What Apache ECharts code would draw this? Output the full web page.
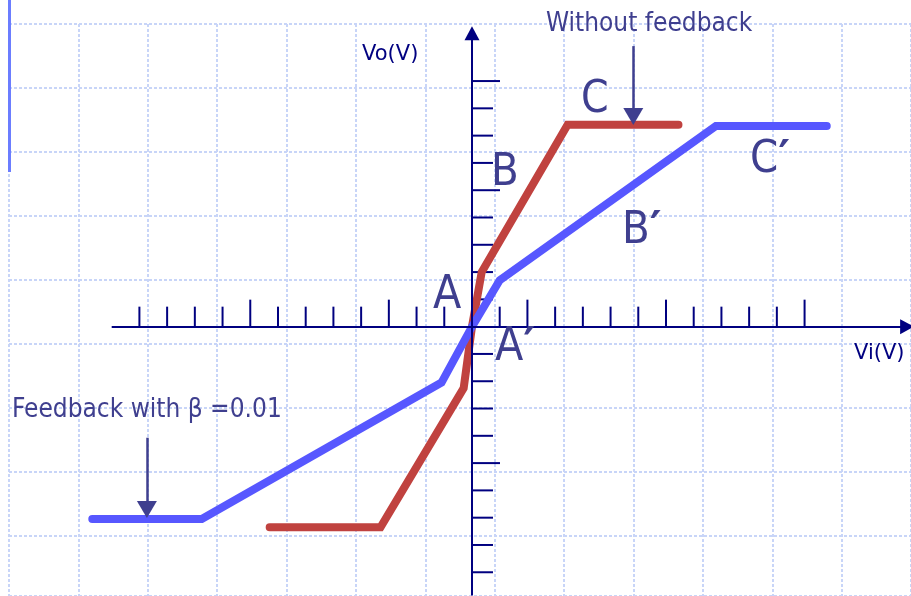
<!DOCTYPE html>
<html>
<head>
<meta charset="utf-8">
<script src="https://cdn.jsdelivr.net/npm/echarts@6/dist/echarts.min.js"></script>
<style>
  html, body { margin: 0; padding: 0; background: #fff; }
  #chart { width: 911px; height: 596px; }
</style>
</head>
<body>
<div id="chart"></div>
<script>
// transfer curve without feedback (red) and with feedback (blue), in tick units
const redVi  = [-7.3, -3.3, -0.3, 0, 0.35, 3.45, 7.45];
const redVo  = [-7.35, -7.35, -2.25, 0, 2.0, 7.4, 7.4];
const blueVi = [-13.7, -9.75, -1.1, 0, 1.0, 8.8, 12.8];
const blueVo = [-7.05, -7.05, -2.05, 0, 1.7, 7.35, 7.35];

// axis ticks
const xTicks = [-12, -11, -10, -9, -8, -7, -6, -5, -4, -3, -2, -1, 1, 2, 3, 4, 5, 6, 7, 8, 9, 10, 11, 12];
const xLongTicks = [-8, -3, 2, 7, 12];
const yTicks = [-9, -8, -7, -6, -5, -4, -3, -2, -1, 1, 2, 3, 4, 5, 6, 7, 8, 9];
const yLongTicks = [-5, 5, 9];

// axis extents (where the drawn axes start / end)
const xAxisStart = -13.0, xAxisEnd = 15.7;
const yAxisStart = -9.85, yAxisEnd = 10.75;

// annotation arrows: [x, yFrom, yTo]
const arrowWithout = [5.82, 10.28, 7.7];
const arrowFeedback = [-11.73, -4.07, -6.7];

const chart = echarts.init(document.getElementById('chart'));

const navy = '#000080';
const ink = '#3f3f8f';
const font = '"DejaVu Sans Condensed", "DejaVu Sans", sans-serif';

function zip(a, b) { return a.map((v, i) => [v, b[i]]); }

function label(text, x, y, size, color, family) {
  return {
    type: 'text', x: x, y: y, z: 50, silent: true,
    style: {
      text: text, font: size + 'px ' + (family || font), fill: color || ink,
      verticalAlign: 'middle', align: 'left',
      rich: { p: { font: 'bold ' + size + 'px "DejaVu Sans", sans-serif', fill: color || ink } }
    }
  };
}

const gridLine = { show: true, lineStyle: { color: '#c8d5f8', width: 2, type: [3, 2] } };

const option = {
  animation: false,
  backgroundColor: '#ffffff',
  grid: [
    { left: 0, right: 0, top: 0, bottom: 0 },
    { left: 9, right: 0, top: 24, bottom: 0 }
  ],
  xAxis: [
    { type: 'value', gridIndex: 0, min: -17.03, max: 15.84, show: false },
    { type: 'value', gridIndex: 1, min: 0, max: 902, interval: 69.39,
      axisLine: { show: false }, axisTick: { show: false }, axisLabel: { show: false },
      splitLine: gridLine }
  ],
  yAxis: [
    { type: 'value', gridIndex: 0, min: -9.87, max: 11.97, show: false },
    { type: 'value', gridIndex: 1, inverse: true, min: 0, max: 572, interval: 63.96,
      axisLine: { show: false }, axisTick: { show: false }, axisLabel: { show: false },
      splitLine: gridLine }
  ],
  graphic: [
    { type: 'rect', shape: { x: 8, y: 0, width: 3, height: 172 }, style: { fill: '#6b7dff' }, z: 40 },
    label('Vo(V)', 362, 55, 21, navy, '"DejaVu Sans", sans-serif'),
    label('Vi(V)', 854, 354, 21, navy, '"DejaVu Sans", sans-serif'),
    label('Without feedback', 546, 24, 26),
    label('Feedback with \u03b2 =0.01', 12, 410, 26),
    label('A', 433, 296, 46),
    label('A{p|\u2032}', 495, 348, 46),
    label('B', 491, 173, 45),
    label('C', 581, 101, 44),
    label('B{p|\u2032}', 622, 231, 45),
    label('C{p|\u2032}', 750, 160, 45)
  ],
  series: [
    {
      // axis lines with arrow heads
      type: 'line', xAxisIndex: 0, yAxisIndex: 0, data: [], silent: true,
      markLine: {
        silent: true, symbol: ['none', 'triangle'], symbolSize: [15, 14],
        label: { show: false },
        lineStyle: { color: navy, width: 2, type: 'solid' },
        data: [
          [{ coord: [xAxisStart, 0] }, { coord: [xAxisEnd, 0] }],
          [{ coord: [0, yAxisStart] }, { coord: [0, yAxisEnd] }]
        ]
      }
    },
    {
      type: 'custom', xAxisIndex: 0, yAxisIndex: 0, silent: true,
      data: xTicks.map(v => [v, 0, xLongTicks.includes(v) ? 1 : 0]),
      encode: { x: 0, y: 1 },
      renderItem: function (params, api) {
        const p = api.coord([api.value(0), 0]);
        const len = api.value(2) ? 27 : 20;
        return { type: 'line', shape: { x1: p[0], y1: p[1], x2: p[0], y2: p[1] - len }, style: { stroke: navy, lineWidth: 2 } };
      }
    },
    {
      type: 'custom', xAxisIndex: 0, yAxisIndex: 0, silent: true,
      data: yTicks.map(v => [0, v, yLongTicks.includes(v) ? 1 : 0]),
      encode: { x: 0, y: 1 },
      renderItem: function (params, api) {
        const p = api.coord([0, api.value(1)]);
        const len = api.value(2) ? 28 : 21;
        return { type: 'line', shape: { x1: p[0], y1: p[1], x2: p[0] + len, y2: p[1] }, style: { stroke: navy, lineWidth: 2 } };
      }
    },
    {
      name: 'Without feedback', type: 'line', xAxisIndex: 0, yAxisIndex: 0,
      data: zip(redVi, redVo), showSymbol: false, symbol: 'none',
      lineStyle: { color: '#c0423f', width: 8, cap: 'round', join: 'miter' }
    },
    {
      name: 'Feedback with \u03b2 =0.01', type: 'line', xAxisIndex: 0, yAxisIndex: 0,
      data: zip(blueVi, blueVo), showSymbol: false, symbol: 'none',
      lineStyle: { color: '#5757ff', width: 8, cap: 'round', join: 'miter' }
    },
    {
      type: 'line', xAxisIndex: 0, yAxisIndex: 0, data: [], silent: true,
      markLine: {
        silent: true, symbol: ['none', 'triangle'], symbolSize: [20, 17],
        label: { show: false },
        lineStyle: { color: ink, width: 2.5, type: 'solid' },
        data: [
          [{ coord: [arrowWithout[0], arrowWithout[1]] }, { coord: [arrowWithout[0], arrowWithout[2]] }],
          [{ coord: [arrowFeedback[0], arrowFeedback[1]] }, { coord: [arrowFeedback[0], arrowFeedback[2]] }]
        ]
      }
    }
  ]
};

chart.setOption(option);
</script>
</body>
</html>
